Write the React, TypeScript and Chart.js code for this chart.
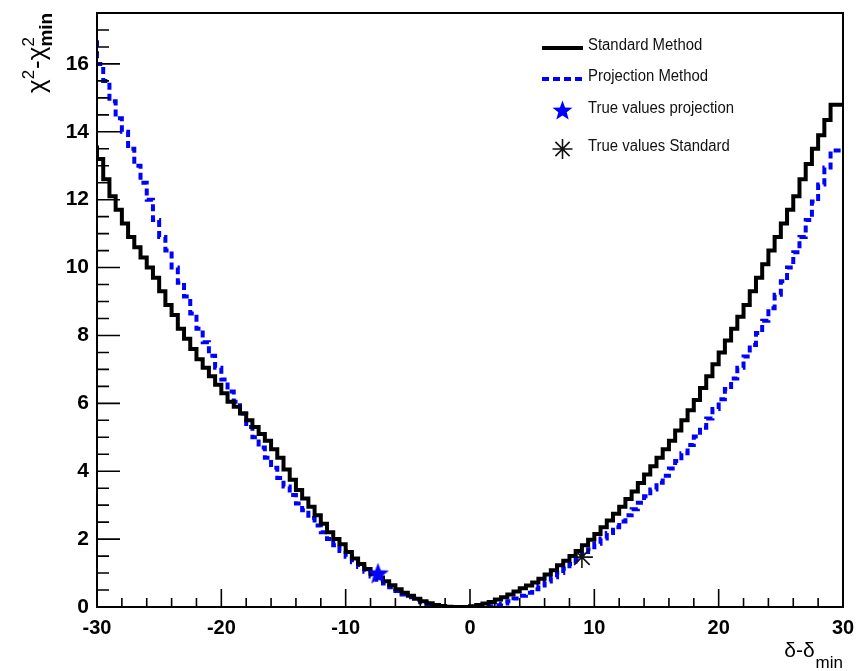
import React, { useEffect, useRef } from "react";
import { Chart, registerables } from "chart.js";

Chart.register(...registerables);

// ---- data ----
const X_MIN = -30;
const X_MAX = 30;
const BIN_WIDTH = 0.5;
const Y_MAX = 17.5;

const X_TICKS = [-30, -20, -10, 0, 10, 20, 30];
const X_MINOR_STEP = 2;
const Y_TICKS = [0, 2, 4, 6, 8, 10, 12, 14, 16];
const Y_MINOR_STEP = 0.5;

// Standard Method histogram (120 bins of 0.5 from -30 to 30)
const STANDARD = [
  13.6, 13.2, 12.6, 12.1, 11.7, 11.3, 10.9, 10.6, 10.3, 10.0,
  9.7, 9.3, 8.9, 8.6, 8.2, 7.9, 7.6, 7.3, 7.05, 6.8,
  6.55, 6.3, 6.05, 5.9, 5.7, 5.5, 5.3, 5.1, 4.9, 4.65,
  4.4, 4.05, 3.75, 3.45, 3.2, 2.95, 2.7, 2.45, 2.2, 2.0,
  1.85, 1.62, 1.43, 1.27, 1.12, 0.98, 0.87, 0.76, 0.64, 0.52,
  0.42, 0.33, 0.24, 0.17, 0.11, 0.06, 0.03, 0.01, 0.0, 0.0,
  0.0, 0.02, 0.06, 0.1, 0.15, 0.22, 0.29, 0.37, 0.46, 0.55,
  0.63, 0.72, 0.83, 0.96, 1.08, 1.23, 1.36, 1.5, 1.65, 1.82,
  1.98, 2.15, 2.35, 2.55, 2.75, 2.95, 3.18, 3.4, 3.65, 3.9,
  4.15, 4.4, 4.65, 4.9, 5.2, 5.5, 5.8, 6.1, 6.45, 6.8,
  7.15, 7.5, 7.85, 8.2, 8.55, 8.9, 9.3, 9.7, 10.1, 10.5,
  10.9, 11.3, 11.7, 12.1, 12.6, 13.05, 13.5, 13.9, 14.35, 14.8,
];

// Projection Method histogram (same binning)
const PROJECTION = [
  16.7, 16.0, 15.5, 14.9, 14.4, 14.0, 13.5, 13.0, 12.5, 12.0,
  11.4, 10.9, 10.5, 10.0, 9.55, 9.15, 8.65, 8.2, 7.8, 7.4,
  7.05, 6.7, 6.35, 6.05, 5.7, 5.3, 5.0, 4.7, 4.4, 4.1,
  3.8, 3.55, 3.3, 3.05, 2.85, 2.62, 2.4, 2.2, 2.0, 1.82,
  1.65, 1.48, 1.32, 1.18, 1.04, 0.9, 0.8, 0.69, 0.58, 0.47,
  0.37, 0.29, 0.21, 0.14, 0.09, 0.05, 0.02, 0.0, 0.0, 0.0,
  0.0, 0.0, 0.0, 0.0, 0.02, 0.05, 0.1, 0.17, 0.25, 0.33,
  0.42, 0.52, 0.63, 0.75, 0.88, 1.0, 1.13, 1.27, 1.4, 1.55,
  1.7, 1.86, 2.02, 2.18, 2.35, 2.52, 2.7, 2.88, 3.07, 3.26,
  3.46, 3.66, 3.87, 4.08, 4.3, 4.53, 4.77, 5.02, 5.28, 5.55,
  5.83, 6.12, 6.42, 6.73, 7.05, 7.38, 7.72, 8.07, 8.43, 8.8,
  9.2, 9.6, 10.0, 10.45, 10.9, 11.4, 11.95, 12.45, 12.95, 13.45,
];

const TRUE_PROJ_X = [-7.4];
const TRUE_PROJ_Y = [1.0];
const TRUE_STD_X = [9.0];
const TRUE_STD_Y = [1.47];

const LEGEND_LABELS = [
  "Standard Method",
  "Projection Method",
  "True values projection",
  "True values Standard",
];

const BLUE = "#0000ff";
const BLACK = "#000000";
const FONT = "'Liberation Sans', Arial, sans-serif";

function histPoints(values: number[]) {
  const pts = values.map((v, i) => ({ x: X_MIN + i * BIN_WIDTH, y: v }));
  pts.push({ x: X_MAX, y: values[values.length - 1] });
  return pts;
}

function drawStar(ctx: CanvasRenderingContext2D, cx: number, cy: number, R: number, color: string) {
  const r = R * 0.42;
  ctx.beginPath();
  for (let i = 0; i < 10; i++) {
    const rad = i % 2 === 0 ? R : r;
    const a = -Math.PI / 2 + (i * Math.PI) / 5;
    const px = cx + rad * Math.cos(a);
    const py = cy + rad * Math.sin(a);
    if (i === 0) ctx.moveTo(px, py);
    else ctx.lineTo(px, py);
  }
  ctx.closePath();
  ctx.fillStyle = color;
  ctx.fill();
}

function drawAsterisk(ctx: CanvasRenderingContext2D, cx: number, cy: number, R: number, color: string) {
  ctx.save();
  ctx.strokeStyle = color;
  ctx.lineWidth = 1.6;
  ctx.beginPath();
  for (let i = 0; i < 4; i++) {
    const a = (i * Math.PI) / 4;
    ctx.moveTo(cx - R * Math.cos(a), cy - R * Math.sin(a));
    ctx.lineTo(cx + R * Math.cos(a), cy + R * Math.sin(a));
  }
  ctx.stroke();
  ctx.restore();
}

function makeStarImage(R: number) {
  const c = document.createElement("canvas");
  const s = Math.ceil(R * 2 + 4);
  c.width = s;
  c.height = s;
  const g = c.getContext("2d")!;
  drawStar(g, s / 2, s / 2 + R * 0.1, R, BLUE);
  return c;
}

const decorPlugin = {
  id: "decor",
  afterDraw(chart: any) {
    const { ctx, chartArea: a, scales } = chart;
    const xs = scales.x;
    const ys = scales.y;
    ctx.save();

    // tick marks (inward)
    ctx.strokeStyle = BLACK;
    ctx.lineWidth = 1.6;
    ctx.beginPath();
    const nx = Math.round((X_MAX - X_MIN) / X_MINOR_STEP);
    for (let i = 0; i <= nx; i++) {
      const v = X_MIN + i * X_MINOR_STEP;
      const major = X_TICKS.some((t) => Math.abs(t - v) < 1e-6);
      const px = xs.getPixelForValue(v);
      ctx.moveTo(px, a.bottom);
      ctx.lineTo(px, a.bottom - (major ? 18 : 9));
    }
    const ny = Math.floor(Y_MAX / Y_MINOR_STEP);
    for (let i = 0; i <= ny; i++) {
      const v = i * Y_MINOR_STEP;
      const major = Y_TICKS.some((t) => Math.abs(t - v) < 1e-6);
      const py = ys.getPixelForValue(v);
      ctx.moveTo(a.left, py);
      ctx.lineTo(a.left + (major ? 23 : 12), py);
    }
    ctx.stroke();

    // frame
    ctx.lineWidth = 2;
    ctx.strokeRect(a.left, a.top, a.right - a.left, a.bottom - a.top);

    // legend
    const lx0 = a.left + 445;
    const lx1 = a.left + 486;
    const rows = [47, 78, 110, 148];
    ctx.lineWidth = 4;
    ctx.strokeStyle = BLACK;
    ctx.beginPath();
    ctx.moveTo(lx0, rows[0] + 1);
    ctx.lineTo(lx1, rows[0] + 1);
    ctx.stroke();
    ctx.strokeStyle = BLUE;
    ctx.setLineDash([7, 4]);
    ctx.beginPath();
    ctx.moveTo(lx0, rows[1] + 1);
    ctx.lineTo(lx1, rows[1] + 1);
    ctx.stroke();
    ctx.setLineDash([]);
    drawStar(ctx, (lx0 + lx1) / 2, rows[2] + 1, 10.5, BLUE);
    drawAsterisk(ctx, (lx0 + lx1) / 2, rows[3] + 1, 10, "#111");

    ctx.fillStyle = "#111";
    ctx.font = `16px ${FONT}`;
    ctx.textBaseline = "middle";
    ctx.textAlign = "left";
    const target = 146;
    const sx = target / ctx.measureText(LEGEND_LABELS[2]).width;
    LEGEND_LABELS.forEach((t, i) => {
      ctx.save();
      ctx.translate(lx1 + 5, rows[i] - 1);
      ctx.scale(sx, 1);
      ctx.fillText(t, 0, 0);
      ctx.restore();
    });

    // x axis title: δ-δ_min (right aligned)
    ctx.fillStyle = BLACK;
    ctx.textBaseline = "alphabetic";
    const mainX = "δ-δ";
    ctx.font = `17px ${FONT}`;
    const subW = ctx.measureText("min").width;
    ctx.font = `21px ${FONT}`;
    const mainW = ctx.measureText(mainX).width;
    const xr = a.right;
    ctx.fillText(mainX, xr - subW - mainW - 1, 657);
    ctx.font = `17px ${FONT}`;
    ctx.fillText("min", xr - subW, 668);

    // y axis title: χ²-χ²_min rotated
    ctx.save();
    ctx.translate(45, 93);
    ctx.rotate(-Math.PI / 2);
    let cx = 0;
    ctx.font = `26px ${FONT}`;
    ctx.fillText("χ", cx, 0);
    cx += ctx.measureText("χ").width;
    ctx.font = `17px ${FONT}`;
    ctx.fillText("2", cx, -11);
    cx += ctx.measureText("2").width + 1;
    ctx.font = `26px ${FONT}`;
    ctx.fillText("-", cx, 0);
    cx += ctx.measureText("-").width;
    ctx.fillText("χ", cx, 0);
    cx += ctx.measureText("χ").width;
    ctx.font = `17px ${FONT}`;
    ctx.fillText("2", cx, -11);
    ctx.font = `bold 19px ${FONT}`;
    ctx.fillText("min", cx, 7);
    ctx.restore();

    ctx.restore();
  },
};

export default function App() {
  const ref = useRef<HTMLCanvasElement | null>(null);

  useEffect(() => {
    if (!ref.current) return;
    const starImg = makeStarImage(11.5);
    const chart = new Chart(ref.current, {
      type: "line",
      data: {
        datasets: [
          {
            label: "True values projection",
            data: TRUE_PROJ_X.map((x, i) => ({ x, y: TRUE_PROJ_Y[i] })),
            showLine: false,
            pointStyle: starImg as any,
            pointRadius: 12,
            order: 0,
          },
          {
            label: "True values Standard",
            data: TRUE_STD_X.map((x, i) => ({ x, y: TRUE_STD_Y[i] })),
            showLine: false,
            pointStyle: "star",
            pointRadius: 11,
            pointBorderWidth: 1.6,
            pointBorderColor: "#111",
            pointBackgroundColor: "#111",
            order: 0,
          },
          {
            label: "Standard Method",
            data: histPoints(STANDARD),
            stepped: "after",
            borderColor: BLACK,
            borderWidth: 4,
            pointRadius: 0,
            fill: false,
            order: 1,
          },
          {
            label: "Projection Method",
            data: histPoints(PROJECTION),
            stepped: "after",
            borderColor: BLUE,
            borderWidth: 4,
            borderDash: [7, 4],
            pointRadius: 0,
            fill: false,
            order: 2,
          },
        ],
      },
      options: {
        animation: false,
        responsive: false,
        maintainAspectRatio: false,
        parsing: true,
        layout: { padding: { left: 0, right: 22, top: 7, bottom: 0 } },
        plugins: { legend: { display: false }, tooltip: { enabled: false } },
        scales: {
          x: {
            type: "linear",
            min: X_MIN,
            max: X_MAX,
            grid: { display: false, drawTicks: false },
            border: { display: false },
            ticks: {
              color: BLACK,
              font: { family: FONT, size: 20, weight: "bold" },
              padding: 9,
              maxRotation: 0,
            },
            afterBuildTicks: (s: any) => {
              s.ticks = X_TICKS.map((v) => ({ value: v }));
            },
            afterFit: (s: any) => {
              s.height = 64;
              s.paddingLeft = 0;
              s.paddingRight = 0;
            },
          },
          y: {
            type: "linear",
            min: 0,
            max: Y_MAX,
            grid: { display: false, drawTicks: false },
            border: { display: false },
            ticks: {
              color: BLACK,
              font: { family: FONT, size: 21, weight: "bold" },
              padding: 8,
            },
            afterBuildTicks: (s: any) => {
              s.ticks = Y_TICKS.map((v) => ({ value: v }));
            },
            afterFit: (s: any) => {
              s.width = 97;
              s.paddingTop = 0;
              s.paddingBottom = 0;
            },
          },
        },
      },
      plugins: [decorPlugin],
    });
    return () => chart.destroy();
  }, []);

  return (
    <div style={{ position: "absolute", left: 0, top: 0, width: 865, height: 671, background: "#fff" }}>
      <canvas ref={ref} width={865} height={671} style={{ display: "block" }} />
    </div>
  );
}
